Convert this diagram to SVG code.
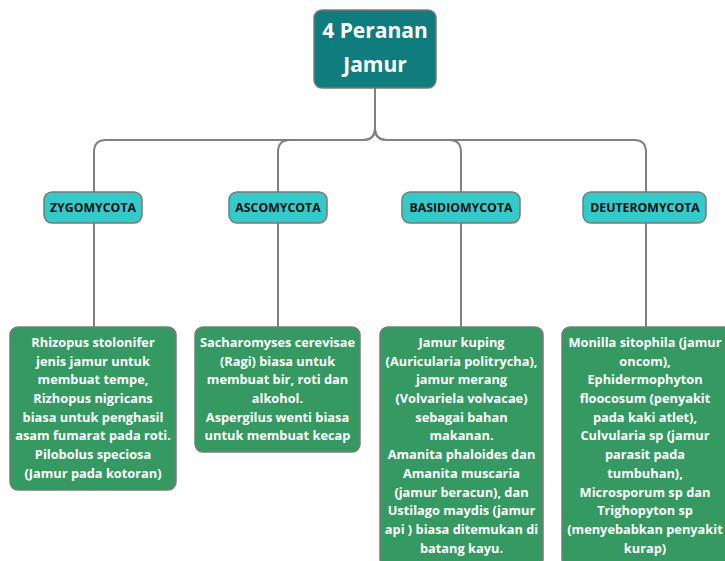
<svg xmlns="http://www.w3.org/2000/svg" width="725" height="561" viewBox="0 0 725 561">
<style>
.conn{fill:none;stroke:#808080;stroke-width:2}
.root{fill:#0f7d7d;stroke:#7a7a7a;stroke-width:1.5}
.cat{fill:#33caca;stroke:#7a7a7a;stroke-width:1.5}
.leaf{fill:#359a62;stroke:#7a7a7a;stroke-width:1.5}
text{font-family:"Open Sans","Noto Sans","DejaVu Sans",sans-serif;font-weight:700;text-anchor:middle}
.rt{fill:#ffffff;font-size:21px}
.ct{fill:#111111;font-size:12.3px}
.lt{fill:#ffffff;font-size:12.8px}
</style>
<rect width="725" height="561" fill="#ffffff"/>
<g id="connectors">
<path class="conn" d="M375,88 V128 Q375,140 363,140 H106 Q94,140 94,152 V192"/>
<path class="conn" d="M375,88 V128 Q375,140 363,140 H290 Q278,140 278,152 V192"/>
<path class="conn" d="M375,88 V128 Q375,140 387,140 H449 Q461,140 461,152 V192"/>
<path class="conn" d="M375,88 V128 Q375,140 387,140 H634 Q646,140 646,152 V192"/>
<path class="conn" d="M94,223 V327"/>
<path class="conn" d="M278,223 V327"/>
<path class="conn" d="M461,223 V327"/>
<path class="conn" d="M646,223 V327"/>
</g>
<g id="root">
<rect class="root" x="314" y="10" width="122" height="78" rx="8"/>
<text class="rt" x="375" y="38">4 Peranan</text>
<text class="rt" x="375" y="72">Jamur</text>
</g>
<g id="zygomycota">
<rect class="cat" x="44" y="192" width="98" height="31" rx="8"/>
<text class="ct" x="93" y="212">ZYGOMYCOTA</text>
</g>
<g id="ascomycota">
<rect class="cat" x="229" y="192" width="98" height="31" rx="8"/>
<text class="ct" x="278" y="212">ASCOMYCOTA</text>
</g>
<g id="basidiomycota">
<rect class="cat" x="402" y="192" width="118" height="31" rx="8"/>
<text class="ct" x="461" y="212">BASIDIOMYCOTA</text>
</g>
<g id="deuteromycota">
<rect class="cat" x="583" y="192" width="123" height="31" rx="8"/>
<text class="ct" x="645" y="212">DEUTEROMYCOTA</text>
</g>
<g id="leaf-zygo">
<rect class="leaf" x="10" y="327" width="166" height="163" rx="8"/>
<text class="lt" x="93" y="347">Rhizopus stolonifer</text>
<text class="lt" x="93" y="366">jenis jamur untuk</text>
<text class="lt" x="93" y="384">membuat tempe,</text>
<text class="lt" x="93" y="403">Rizhopus nigricans</text>
<text class="lt" x="93" y="422">biasa untuk penghasil</text>
<text class="lt" x="93" y="440">asam fumarat pada roti.</text>
<text class="lt" x="93" y="459">Pilobolus speciosa</text>
<text class="lt" x="93" y="478">(Jamur pada kotoran)</text>
</g>
<g id="leaf-asco">
<rect class="leaf" x="195" y="327" width="165" height="125" rx="8"/>
<text class="lt" x="277.5" y="347">Sacharomyses cerevisae</text>
<text class="lt" x="277.5" y="366">(Ragi) biasa untuk</text>
<text class="lt" x="277.5" y="384">membuat bir, roti dan</text>
<text class="lt" x="277.5" y="403">alkohol.</text>
<text class="lt" x="277.5" y="422">Aspergilus wenti biasa</text>
<text class="lt" x="277.5" y="440">untuk membuat kecap</text>
</g>
<g id="leaf-basidio">
<rect class="leaf" x="380" y="327" width="163" height="240" rx="8"/>
<text class="lt" x="461.5" y="347">Jamur kuping</text>
<text class="lt" x="461.5" y="366">(Auricularia politrycha),</text>
<text class="lt" x="461.5" y="384">jamur merang</text>
<text class="lt" x="461.5" y="403">(Volvariela volvacae)</text>
<text class="lt" x="461.5" y="422">sebagai bahan</text>
<text class="lt" x="461.5" y="440">makanan.</text>
<text class="lt" x="461.5" y="459">Amanita phaloides dan</text>
<text class="lt" x="461.5" y="478">Amanita muscaria</text>
<text class="lt" x="461.5" y="497">(jamur beracun), dan</text>
<text class="lt" x="461.5" y="515">Ustilago maydis (jamur</text>
<text class="lt" x="461.5" y="534">api ) biasa ditemukan di</text>
<text class="lt" x="461.5" y="553">batang kayu.</text>
</g>
<g id="leaf-deutero">
<rect class="leaf" x="562" y="327" width="170" height="240" rx="8"/>
<text class="lt" x="645" y="347">Monilla sitophila (jamur</text>
<text class="lt" x="645" y="366">oncom),</text>
<text class="lt" x="645" y="384">Ephidermophyton</text>
<text class="lt" x="645" y="403">floocosum (penyakit</text>
<text class="lt" x="645" y="422">pada kaki atlet),</text>
<text class="lt" x="645" y="440">Culvularia sp (jamur</text>
<text class="lt" x="645" y="459">parasit pada</text>
<text class="lt" x="645" y="478">tumbuhan),</text>
<text class="lt" x="645" y="497">Microsporum sp dan</text>
<text class="lt" x="645" y="515">Trighopyton sp</text>
<text class="lt" x="645" y="534">(menyebabkan penyakit</text>
<text class="lt" x="645" y="553">kurap)</text>
</g>
</svg>
